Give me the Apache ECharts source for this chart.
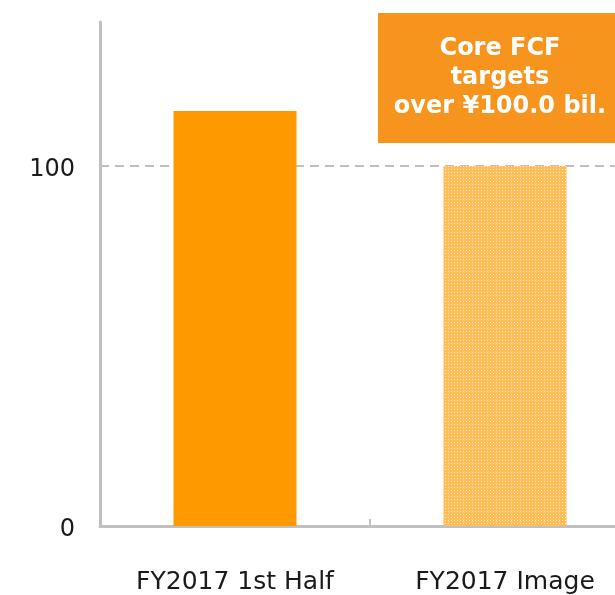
<!DOCTYPE html>
<html>
<head>
<meta charset="utf-8">
<script src="https://cdn.jsdelivr.net/npm/echarts@6/dist/echarts.min.js"></script>
<style>
  html, body { margin: 0; padding: 0; background: #fff; overflow: hidden; }
  /* 图表比窗口略宽，右侧类目被裁掉一部分 */
  #main { width: 640px; height: 595px; }
</style>
</head>
<body>
<div id="main"></div>
<script>
// data
const categories = ['FY2017 1st Half', 'FY2017 Image'];
const coreFcf = [115.3, 100];
const targetValue = 100;
const yTicks = [0, 100];
const noteLines = ['Core FCF', 'targets', 'over ¥100.0 bil.'];

/**
 * 网点填充（3x3 一个浅色点）
 */
function makeDots() {
  const c = document.createElement('canvas');
  c.width = 3;
  c.height = 3;
  const ctx = c.getContext('2d');
  ctx.fillStyle = '#ffbd55';
  ctx.fillRect(0, 0, 3, 3);
  ctx.fillStyle = '#ffecd0';
  ctx.fillRect(1, 1, 1, 1);
  return c;
}

const chart = echarts.init(document.getElementById('main'));

const option = {
  animation: false,
  grid: {left: 100, right: 0, top: 22, bottom: 68},
  xAxis: {
    type: 'category',
    data: categories,
    axisLine: {lineStyle: {color: '#c0c0c0', width: 3}},
    axisTick: {show: true, inside: true, length: 7, lineStyle: {color: '#c0c0c0', width: 2}},
    axisLabel: {
      color: '#1a1a1a', fontSize: 25, margin: 44,
      fontFamily: 'DejaVu Sans'
    }
  },
  yAxis: {
    type: 'value',
    min: 0,
    max: 140,
    interval: 100,
    axisLine: {show: true, lineStyle: {color: '#c0c0c0', width: 3}},
    axisTick: {show: false},
    splitLine: {show: false},
    axisLabel: {
      color: '#1a1a1a', fontSize: 24, margin: 25,
      fontFamily: 'DejaVu Sans',
      verticalAlign: 'top',
      lineHeight: 8,
      showMaxLabel: false,
      formatter: (v) => (yTicks.indexOf(v) >= 0 ? String(v) : '')
    }
  },
  series: [{
    type: 'bar',
    barWidth: 123,
    data: coreFcf.map((v, i) => ({
      value: v,
      itemStyle: i === 0 ? {color: '#ff9900'} : {color: {image: makeDots(), repeat: 'repeat'}}
    })),
    markLine: {
      silent: true,
      symbol: 'none',
      label: {show: false},
      lineStyle: {color: '#c0c0c0', type: [9, 6], width: 2},
      data: [{yAxis: targetValue}],
      z: 1
    },
    z: 3
  }],
  graphic: [{
    type: 'group',
    left: 378,
    top: 13,
    children: [{
      type: 'rect',
      shape: {x: 0, y: 0, width: 262, height: 130},
      style: {fill: '#f7941d'}
    }, {
      type: 'text',
      x: 122,
      y: 65,
      style: {
        text: noteLines.join('\n'),
        fill: '#fff',
        font: 'bold 24px "DejaVu Sans"',
        lineHeight: 29,
        align: 'center',
        verticalAlign: 'middle'
      }
    }]
  }]
};

chart.setOption(option);
</script>
</body>
</html>
